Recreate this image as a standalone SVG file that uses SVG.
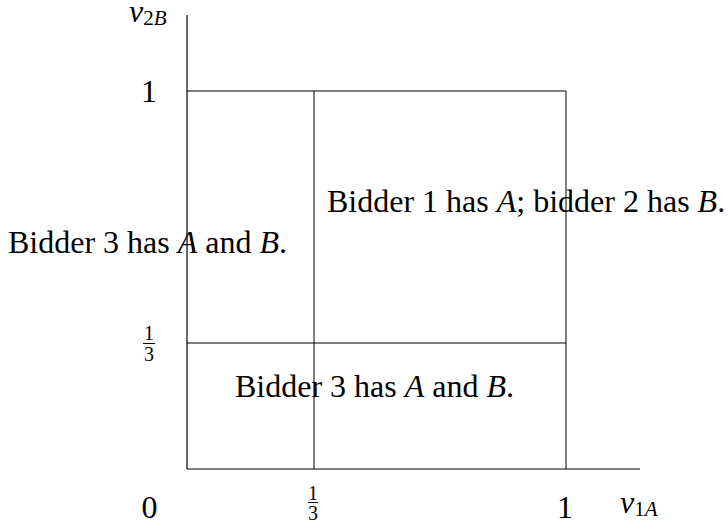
<svg xmlns="http://www.w3.org/2000/svg" width="728" height="531" viewBox="0 0 728 531">
<rect width="728" height="531" fill="#fff"/>
<g id="connectors" stroke="#000" fill="none">
<line stroke-width="1.2" x1="187" y1="15" x2="187" y2="469"/>
<line stroke-width="1.2" x1="187" y1="469" x2="640" y2="469"/>
<line stroke-width="1" x1="187" y1="91" x2="566" y2="91"/>
<line stroke-width="1" x1="566" y1="91" x2="566" y2="469"/>
<line stroke-width="1" x1="314" y1="91" x2="314" y2="469"/>
<line stroke-width="1" x1="187" y1="343" x2="566" y2="343"/>
</g>
<g id="labels" font-family="'Liberation Serif', 'Times New Roman', 'DejaVu Serif', serif" fill="#000">
<text font-size="32" font-style="italic" x="129" y="22">v<tspan font-size="21" font-style="normal" dy="3">2</tspan><tspan font-size="21" font-style="italic">B</tspan></text>
<text font-size="32" text-anchor="middle" x="149" y="102">1</text>
<text font-size="20" text-anchor="middle" x="149" y="340">1</text>
<line stroke="#000" stroke-width="1" x1="143" y1="343.5" x2="155" y2="343.5"/>
<text font-size="20" text-anchor="middle" x="149" y="361">3</text>
<text font-size="32" text-anchor="middle" x="149.5" y="518">0</text>
<text font-size="20" text-anchor="middle" x="313" y="500">1</text>
<line stroke="#000" stroke-width="1" x1="308" y1="502.5" x2="318" y2="502.5"/>
<text font-size="20" text-anchor="middle" x="313" y="520">3</text>
<text font-size="32" text-anchor="middle" x="565" y="518">1</text>
<text font-size="32" font-style="italic" x="620" y="513">v<tspan font-size="21" font-style="normal" dy="3">1</tspan><tspan font-size="21" font-style="italic">A</tspan></text>
</g>
<g id="region-left" font-family="'Liberation Serif', 'Times New Roman', 'DejaVu Serif', serif" font-size="32" fill="#000">
<text x="8" y="253">Bidder 3 has <tspan font-style="italic">A</tspan> and <tspan font-style="italic">B</tspan>.</text>
</g>
<g id="region-upper" font-family="'Liberation Serif', 'Times New Roman', 'DejaVu Serif', serif" font-size="32" fill="#000">
<text x="327" y="212">Bidder 1 has <tspan font-style="italic">A</tspan>; bidder 2 has <tspan font-style="italic">B</tspan>.</text>
</g>
<g id="region-lower" font-family="'Liberation Serif', 'Times New Roman', 'DejaVu Serif', serif" font-size="32" fill="#000">
<text x="235" y="397">Bidder 3 has <tspan font-style="italic">A</tspan> and <tspan font-style="italic">B</tspan>.</text>
</g>
</svg>
